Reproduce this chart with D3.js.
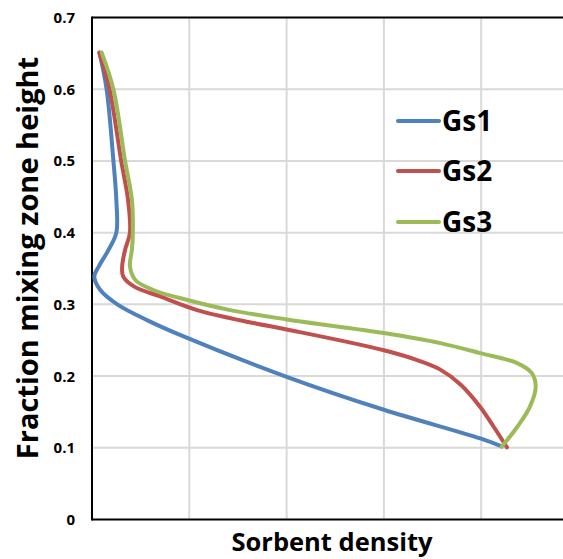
<!DOCTYPE html>
<html>
<head>
<meta charset="utf-8">
<script src="https://cdn.jsdelivr.net/npm/d3@7"></script>
<style>
  body { margin: 0; background: #fff; }
  text { font-family: "Open Sans", Lato, sans-serif; font-weight: bold; fill: #000; }
</style>
</head>
<body>
<svg id="chart" width="563" height="559"></svg>
<script>
// series (x = sorbent density, arbitrary units; y = fraction of zone height)
var seriesNames = ["Gs1", "Gs2", "Gs3"];
var seriesColors = ["#4F81BD", "#C0504D", "#9BBB59"];

var gs1X = [0.076, 0.15, 0.22, 0.25, 0.25, 0.17, 0.07, 0.024, 0.085, 0.26, 0.565, 0.91, 2.0, 3.0, 3.99, 4.21];
var gs1Y = [0.651, 0.60, 0.50, 0.446, 0.40, 0.376, 0.353, 0.339, 0.32, 0.30, 0.278, 0.257, 0.199, 0.153, 0.113, 0.102];

var gs2X = [0.075, 0.18, 0.30, 0.37, 0.39, 0.34, 0.31, 0.32, 0.43, 0.70, 1.08, 1.66, 2.0, 3.0, 3.37, 3.58, 3.79, 3.99, 4.13, 4.265];
var gs2Y = [0.651, 0.60, 0.50, 0.446, 0.40, 0.376, 0.353, 0.339, 0.325, 0.311, 0.292, 0.274, 0.265, 0.236, 0.221, 0.209, 0.188, 0.157, 0.129, 0.1005];

var gs3X = [0.10, 0.22, 0.34, 0.41, 0.42, 0.41, 0.39, 0.445, 0.63, 0.98, 1.42, 2.0, 3.0, 3.58, 3.99, 4.37, 4.52, 4.56, 4.50, 4.37, 4.21];
var gs3Y = [0.651, 0.60, 0.50, 0.446, 0.40, 0.376, 0.353, 0.334, 0.32, 0.306, 0.292, 0.279, 0.26, 0.246, 0.232, 0.218, 0.204, 0.185, 0.157, 0.129, 0.1015];

var yTicks = [0, 0.1, 0.2, 0.3, 0.4, 0.5, 0.6, 0.7];
var xGrid = [1, 2, 3, 4];

var svg = d3.select("#chart");
// plot box (note: "top" is taken by window.top, so use pTop etc.)
var pLeft = 92, pTop = 17.5, pBottom = 519.5, pRight = 578.5;

var x = d3.scaleLinear().domain([0, 5]).range([pLeft, pRight]);
var y = d3.scaleLinear().domain([0, 0.7]).range([pBottom, pTop]);

// gridlines
svg.selectAll(".hgrid").data(yTicks.slice(1, -1)).enter().append("line")
  .attr("x1", pLeft).attr("x2", 563)
  .attr("y1", function (d) { return y(d); }).attr("y2", function (d) { return y(d); })
  .attr("stroke", "#d9d9d9").attr("stroke-width", 2);
svg.selectAll(".vgrid").data(xGrid).enter().append("line")
  .attr("x1", function (d) { return x(d); }).attr("x2", function (d) { return x(d); })
  .attr("y1", pTop).attr("y2", pBottom)
  .attr("stroke", "#d9d9d9").attr("stroke-width", 2);

// frame: left, top, bottom
svg.append("line").attr("x1", pLeft).attr("x2", 563).attr("y1", pTop).attr("y2", pTop)
  .attr("stroke", "#000").attr("stroke-width", 2);
svg.append("line").attr("x1", pLeft).attr("x2", 563).attr("y1", pBottom).attr("y2", pBottom)
  .attr("stroke", "#000").attr("stroke-width", 2);
svg.append("line").attr("x1", pLeft).attr("x2", pLeft).attr("y1", pTop - 1).attr("y2", pBottom + 1)
  .attr("stroke", "#000").attr("stroke-width", 2);

// y tick labels
svg.selectAll(".ytick").data(yTicks).enter().append("text")
  .attr("x", 75).attr("y", function (d) { return y(d) + 5.5; })
  .attr("text-anchor", "end").style("font-size", "15px")
  .text(function (d) { return d === 0 ? "0" : d3.format(".1f")(d); });

// curves
var series = [
  d3.zip(gs1X, gs1Y),
  d3.zip(gs2X, gs2Y),
  d3.zip(gs3X, gs3Y)
];
var line = d3.line()
  .x(function (d) { return x(d[0]); })
  .y(function (d) { return y(d[1]); })
  .curve(d3.curveCatmullRom.alpha(0.5));

svg.selectAll(".curve").data(series).enter().append("path")
  .attr("d", line)
  .attr("fill", "none")
  .attr("stroke", function (d, i) { return seriesColors[i]; })
  .attr("stroke-width", 4)
  .attr("stroke-linecap", "round")
  .attr("stroke-linejoin", "round");

// legend
var legendBase = [131, 181, 232];
var lg = svg.selectAll(".legend").data(seriesNames).enter().append("g");
lg.append("line")
  .attr("x1", 398).attr("x2", 439)
  .attr("y1", function (d, i) { return legendBase[i] - 10; })
  .attr("y2", function (d, i) { return legendBase[i] - 10; })
  .attr("stroke", function (d, i) { return seriesColors[i]; })
  .attr("stroke-width", 4).attr("stroke-linecap", "round");
lg.append("text")
  .attr("x", 442).attr("y", function (d, i) { return legendBase[i]; })
  .style("font-size", "28px")
  .text(function (d) { return d; });

// axis titles
svg.append("text")
  .attr("x", 332).attr("y", 551)
  .attr("text-anchor", "middle").style("font-size", "25.5px")
  .text("Sorbent density");
svg.append("text")
  .attr("transform", "translate(38,258) rotate(-90)")
  .attr("text-anchor", "middle").style("font-size", "29px")
  .text("Fraction mixing zone height");
</script>
</body>
</html>
